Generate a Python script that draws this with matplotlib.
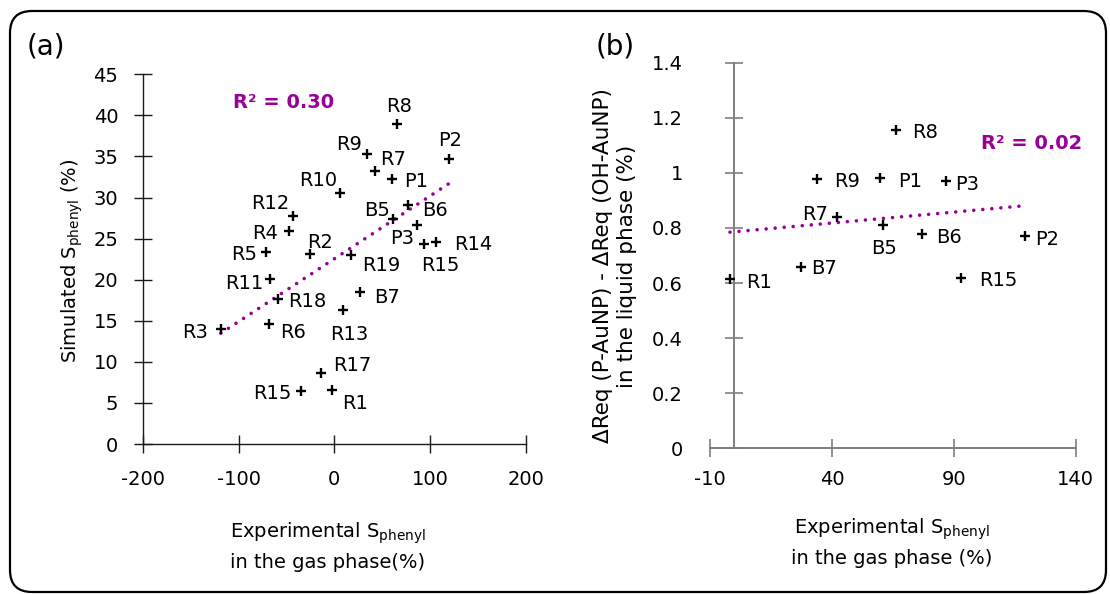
import matplotlib
matplotlib.use("Agg")
import matplotlib.pyplot as plt
import numpy as np
from matplotlib.patches import FancyBboxPatch
from matplotlib.transforms import IdentityTransform

plt.rcParams['font.family'] = ['DejaVu Sans']
plt.rcParams['mathtext.fontset'] = 'dejavusans'
plt.rcParams['axes.unicode_minus'] = False

# ---------------- data: panel (a) ----------------
labels_a = ['R8', 'P2', 'R9', 'R7', 'P1', 'R10', 'B6', 'B5', 'P3', 'R14', 'R15',
            'R12', 'R4', 'R5', 'R2', 'R19', 'R11', 'R18', 'B7', 'R13', 'R3', 'R6',
            'R17', 'R15', 'R1']
x_a = [65.5, 119.5, 34.1, 42.2, 60.3, 6.3, 77.0, 61.0, 86.4, 105.6, 93.4,
       -43.6, -47.7, -71.4, -25.1, 17.8, -66.9, -58.9, 27.2, 9.1, -118.5, -68.6,
       -13.6, -34.8, -2.4]
y_a = [38.9, 34.7, 35.3, 33.2, 32.3, 30.5, 29.1, 27.4, 26.6, 24.6, 24.35,
       27.8, 25.9, 23.4, 23.1, 23.0, 20.1, 17.65, 18.5, 16.3, 14.0, 14.65,
       8.7, 6.4, 6.6]
r2_a = "R² = 0.30"
xticks_a = [-200, -100, 0, 100, 200]
yticks_a = [0, 5, 10, 15, 20, 25, 30, 35, 40, 45]

# ---------------- data: panel (b) ----------------
labels_b = ['R8', 'R9', 'P1', 'P3', 'R7', 'B5', 'B6', 'P2', 'B7', 'R1', 'R15']
x_b = [66.1, 33.8, 59.9, 86.6, 42.0, 61.0, 76.9, 119.0, 27.5, -1.8, 93.0]
y_b = [1.156, 0.977, 0.981, 0.970, 0.841, 0.811, 0.777, 0.769, 0.660, 0.613, 0.620]
r2_b = "R² = 0.02"
xticks_b = [-10, 40, 90, 140]
yticks_b = [0, 0.2, 0.4, 0.6, 0.8, 1.0, 1.2, 1.4]
yticklabels_b = ['0', '0.2', '0.4', '0.6', '0.8', '1', '1.2', '1.4']

# label offsets (points, from marker to label cap-centre)
off_a = [(1.2, 13.9), (1.2, 14.4), (-13, 7.7), (13, 9.8), (17.3, -1.2), (-16.3, 10.3),
         (19, -3.1), (-11.3, 7.2), (-10.6, -7.9), (27.1, -0.5), (11.5, -14.4),
         (-15.8, 9.6), (-16.8, -0.7), (-15.8, -0.5), (6.7, 9.6), (21.4, -6.2),
         (-19, -1.9), (20.9, -0.7), (19.2, -2.6), (4.1, -16.3), (-18.2, -1.4),
         (17.8, -5), (22.6, 6.2), (-20.4, -0.7), (16.6, -8.6)]
off_b = [(21.1, -0.5), (21.8, -0.5), (21.4, -1.2), (15.8, -1), (-15.6, 2.4),
         (0.5, -15.6), (19.2, -1.2), (16.1, -0.7), (16.1, 0), (20.6, -0.7), (27.1, -1)]

FS = 14
PURPLE = '#990099'
CAP_HALF = 0.729 * FS / 2

W, H = 1110, 594
fig = plt.figure(figsize=(W / 100, H / 100), dpi=100)

# rounded frame
frame = FancyBboxPatch((10, 2), 1096, 581, boxstyle="round,pad=0,rounding_size=22",
                       transform=IdentityTransform(), fill=False, ec='black', lw=1.6)
fig.add_artist(frame)

dot_style = dict(color=PURPLE, lw=2.6, linestyle=(0, (0.01, 2.5)),
                 dash_capstyle='round', solid_capstyle='round')
mk_style = dict(marker='+', color='black', markersize=7, markeredgewidth=1.7,
                linestyle='none', clip_on=False, zorder=3)


def trend(ax, xs, ys):
    xs = np.asarray(xs); ys = np.asarray(ys)
    k, b = np.polyfit(xs, ys, 1)
    xx = np.array([xs.min(), xs.max()])
    ax.plot(xx, k * xx + b, zorder=2, **dot_style)


def point_labels(ax, labels, xs, ys, offs):
    for lab, x, y, (dx, dy) in zip(labels, xs, ys, offs):
        ax.annotate(lab, (x, y), xytext=(dx, dy - CAP_HALF), textcoords='offset points',
                    ha='center', va='baseline', fontsize=FS, color='black')


# ---------------- panel (a) ----------------
axa = fig.add_axes([142.7 / W, 1 - 444 / H, 383.3 / W, 369.7 / H])
axa.set_xlim(-200, 200)
axa.set_ylim(0, 45)
for s in ['top', 'right']:
    axa.spines[s].set_visible(False)
for s in ['left', 'bottom']:
    axa.spines[s].set_color('#1a1a1a')
    axa.spines[s].set_linewidth(1.0)
axa.set_xticks(xticks_a)
axa.set_yticks(yticks_a)
axa.tick_params(axis='both', direction='inout', length=12.5, width=1.0, color='#1a1a1a',
                labelsize=FS)
axa.tick_params(axis='y', pad=11.3)
axa.tick_params(axis='x', pad=12.5)
trend(axa, x_a, y_a)
axa.plot(x_a, y_a, **mk_style)
point_labels(axa, labels_a, x_a, y_a, off_a)
axa.text(-53, 41.6, r2_a, color=PURPLE, fontsize=FS, fontweight='bold',
         ha='center', va='center')
axa.set_ylabel("Simulated S$_{\\mathrm{phenyl}}$ (%)", fontsize=FS, va='center', ha='center')
axa.yaxis.set_label_coords((72 - 142.7) / 383.3, (444 - 261) / 369.7)
axa.set_xlabel("Experimental S$_{\\mathrm{phenyl}}$\nin the gas phase(%)", fontsize=FS,
               linespacing=1.5, va='center', ha='center')
axa.xaxis.set_label_coords((328 - 142.7) / 383.3, (444 - 546) / 369.7)

# ---------------- panel (b) ----------------
axb = fig.add_axes([710 / W, 1 - 448.3 / H, 365.7 / W, 385.6 / H])
axb.set_xlim(-10, 140)
axb.set_ylim(0, 1.4)
for s in ['top', 'right']:
    axb.spines[s].set_visible(False)
axb.spines['left'].set_position(('data', 0))
for s in ['left', 'bottom']:
    axb.spines[s].set_color('#7f7f7f')
    axb.spines[s].set_linewidth(1.4)
axb.set_xticks(xticks_b)
axb.set_yticks(yticks_b)
axb.set_yticklabels(yticklabels_b)
axb.tick_params(axis='both', direction='inout', length=12.5, width=1.2, color='#7f7f7f',
                labelsize=FS)
axb.tick_params(axis='y', pad=30.8)
axb.tick_params(axis='x', pad=9.5)
trend(axb, x_b, y_b)
axb.plot(x_b, y_b, **mk_style)
point_labels(axb, labels_b, x_b, y_b, off_b)
axb.text(122.1, 1.108, r2_b, color=PURPLE, fontsize=FS, fontweight='bold',
         ha='center', va='center')
axb.set_ylabel("ΔReq (P-AuNP) - ΔReq (OH-AuNP)\nin the liquid phase (%)", fontsize=15.5,
               va='center', ha='center', linespacing=1.3)
axb.yaxis.set_label_coords((615 - 710) / 365.7, (448.3 - 266) / 385.6)
axb.set_xlabel("Experimental S$_{\\mathrm{phenyl}}$\nin the gas phase (%)", fontsize=FS,
               linespacing=1.5, va='center', ha='center')
axb.xaxis.set_label_coords((892 - 710) / 365.7, (448.3 - 542) / 385.6)

# panel letters
fig.text(45.5 / W, 1 - 47 / H, "(a)", fontsize=20, ha='center', va='center')
fig.text(615 / W, 1 - 46 / H, "(b)", fontsize=20, ha='center', va='center')

fig.savefig("out.png", dpi=100)
